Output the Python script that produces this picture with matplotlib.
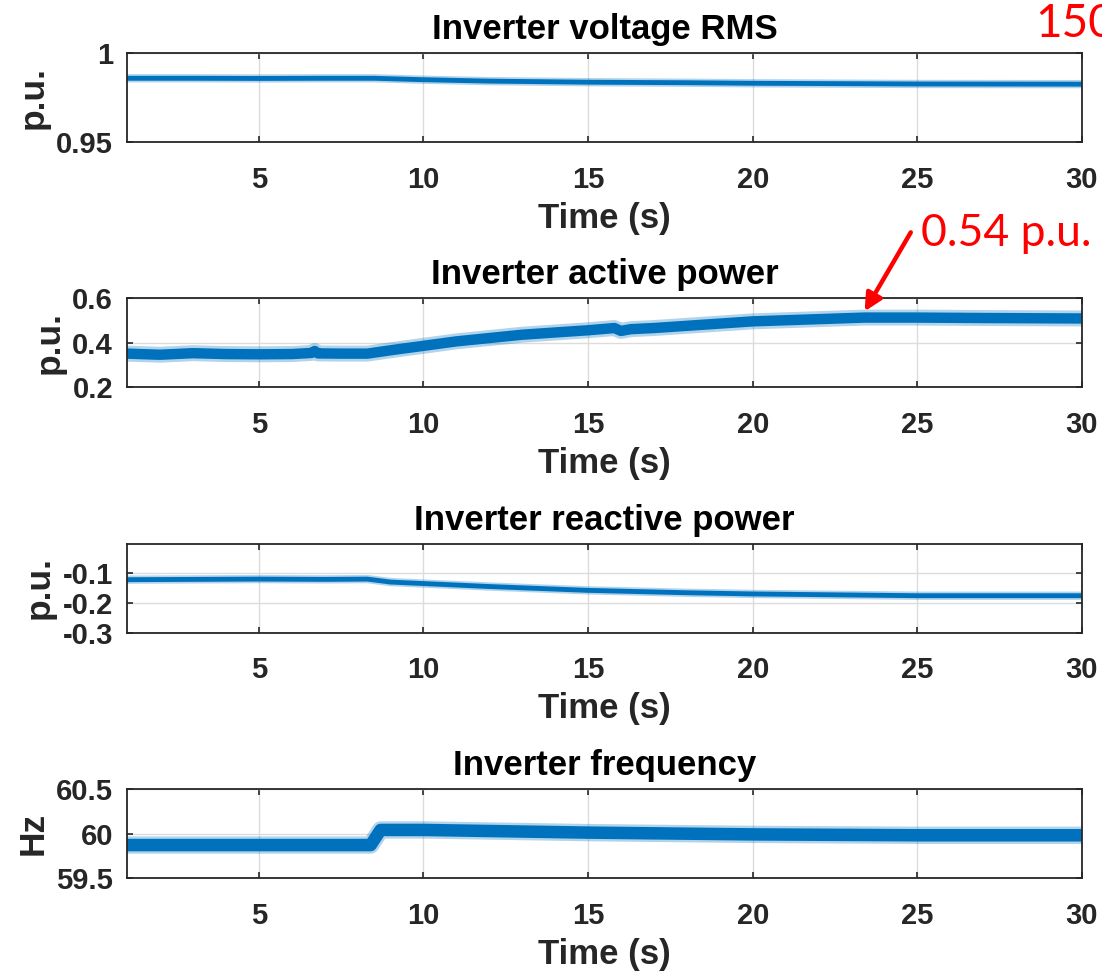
import matplotlib
matplotlib.use("Agg")
import matplotlib.pyplot as plt

plt.rcParams['font.family'] = ['Liberation Sans', 'DejaVu Sans']
plt.rcParams['font.weight'] = 'bold'

# time axis breakpoints and sampled values for each measured quantity
t_rms = [1, 3, 5, 7, 8.5, 10, 12, 15, 18, 20, 25, 30]
v_rms = [0.9858, 0.9858, 0.9857, 0.9858, 0.9858, 0.9850, 0.9842, 0.9836, 0.9833, 0.9830, 0.9826, 0.9825]

t_p = [1, 2, 3, 4, 5, 6, 6.6, 6.7, 6.8, 7.5, 8.3, 9, 10, 11, 12, 13, 14, 15,
       15.8, 16.0, 16.3, 17, 18, 19, 20, 21, 22, 23.4, 25, 27, 30]
p_act = [0.350, 0.345, 0.352, 0.348, 0.347, 0.348, 0.353, 0.362, 0.351, 0.350, 0.350,
         0.365, 0.385, 0.405, 0.420, 0.435, 0.445, 0.455, 0.465, 0.452, 0.460, 0.465,
         0.475, 0.485, 0.495, 0.500, 0.505, 0.512, 0.512, 0.510, 0.508]

t_q = [1, 3, 5, 7, 8.3, 9, 10, 12, 15, 18, 20, 25, 30]
q_react = [-0.122, -0.121, -0.120, -0.121, -0.120, -0.130, -0.135, -0.145, -0.158,
           -0.166, -0.170, -0.176, -0.176]

t_f = [1, 8.4, 8.7, 10, 15, 20, 25, 30]
f_inv = [59.87, 59.87, 60.04, 60.04, 60.01, 59.99, 59.98, 59.98]

titles = ['Inverter voltage RMS', 'Inverter active power',
          'Inverter reactive power', 'Inverter frequency']
ylabels = ['p.u.', 'p.u.', 'p.u.', 'Hz']
ylims = [(0.95, 1.0), (0.2, 0.6), (-0.3, 0.0), (59.5, 60.5)]
yticks = [[0.95, 1], [0.2, 0.4, 0.6], [-0.3, -0.2, -0.1], [59.5, 60, 60.5]]
ytick_labels = [['0.95', '1'], ['0.2', '0.4', '0.6'], ['-0.3', '-0.2', '-0.1'],
                ['59.5', '60', '60.5']]
xticks = [5, 10, 15, 20, 25, 30]

peak_t = 23.4
peak_value = 0.54

series = [(t_rms, v_rms), (t_p, p_act), (t_q, q_react), (t_f, f_inv)]
# line thickness (core, halo) in points to mimic the switching ripple band
widths = [(3.5, 6.0), (7.5, 11.5), (3.5, 6.0), (9, 12.5)]

W, H = 1102, 971
fig = plt.figure(figsize=(W / 100, H / 100), dpi=100)

blue = '#0072BD'
dark = '#262626'
tops = [53, 298, 543.5, 789]
ax_h = 89
left, right = 127, 1082

axes = []
for i, top in enumerate(tops):
    ax = fig.add_axes([left / W, 1 - (top + ax_h) / H, (right - left) / W, ax_h / H])
    t, y = series[i]
    lw_core, lw_halo = widths[i]
    ax.plot(t, y, color=blue, lw=lw_halo, alpha=0.3, solid_joinstyle='round')
    ax.plot(t, y, color=blue, lw=lw_core, solid_joinstyle='round')
    ax.set_xlim(1, 30)
    ax.set_ylim(*ylims[i])
    ax.set_xticks(xticks)
    ax.set_xticklabels([str(x) for x in xticks])
    ax.set_yticks(yticks[i])
    ax.set_yticklabels(ytick_labels[i])
    ax.grid(True, color='#dcdcdc', lw=1)
    ax.set_axisbelow(True)
    ax.tick_params(direction='in', length=4, width=1.2, colors=dark,
                   labelsize=21, top=True, right=True)
    ax.tick_params(axis='x', pad=17)
    ax.tick_params(axis='y', pad=10)
    for s in ax.spines.values():
        s.set_color(dark)
        s.set_linewidth(1.3)
    ax.set_title(titles[i], fontsize=25, fontweight='bold', color='black', pad=10)
    ax.set_xlabel('Time (s)', fontsize=25, fontweight='bold', color=dark, labelpad=6)
    ax.set_ylabel(ylabels[i], fontsize=25.5, fontweight='bold', color=dark, labelpad=5)
    axes.append(ax)

# callout on the active power steady state
ax_p = axes[1]
ax_p.annotate('', xy=(peak_t, peak_value), xytext=(24.8, 0.895),
              xycoords='data', textcoords='data', annotation_clip=False,
              arrowprops=dict(arrowstyle='-|>', color='red', lw=3.2,
                              mutation_scale=26, shrinkA=0, shrinkB=0))
ax_p.text(25.1, 0.892, f'{peak_value:.2f} p.u.', color='red', fontsize=32,
          fontweight='normal', family=['Lato', 'DejaVu Sans'],
          ha='left', va='center', clip_on=False)

fig.text(1035 / W, 1 - 24 / H, '150', color='red', fontsize=33,
         fontweight='normal', family=['Lato', 'DejaVu Sans'],
         ha='left', va='center')

fig.savefig('out.png', dpi=100)
